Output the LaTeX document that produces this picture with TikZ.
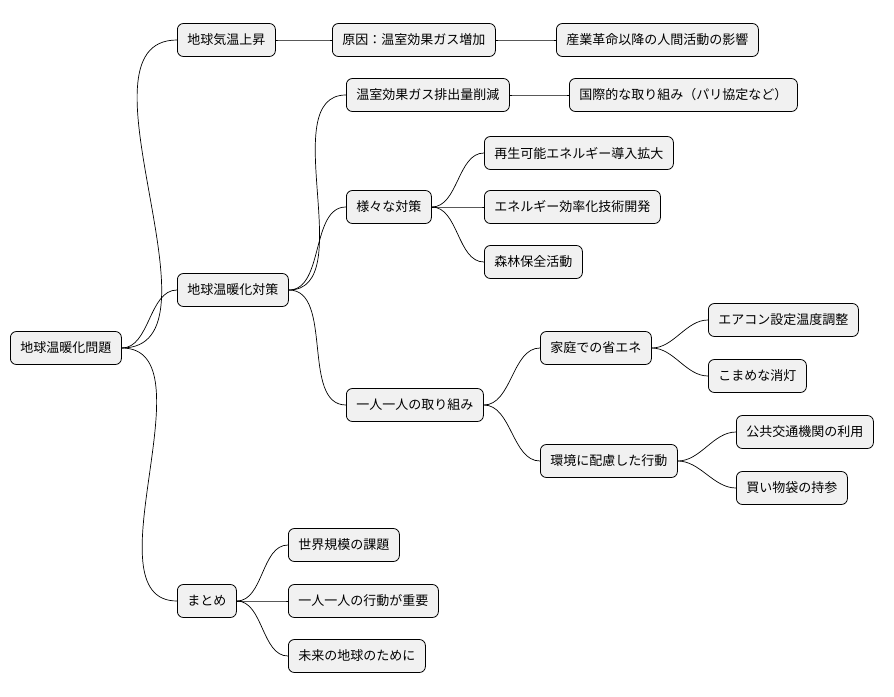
\documentclass[tikz,border=0pt]{standalone}
\usepackage{fontspec}
\setmainfont{Noto Sans CJK JP}
\tikzset{
  topic/.style={draw=black, line width=0.8pt, rounded corners=6pt, fill={rgb,255:red,241;green,241;blue,241},
    anchor=west, minimum height=33pt, inner xsep=10pt, font=\fontsize{13}{15}\selectfont},
  link/.style={line width=0.7pt}
}
\begin{document}
\begin{tikzpicture}[x=1pt,y=-1pt]
\useasboundingbox (0,0) rectangle (894,696);
\node[topic] (root) at (10,348) {地球温暖化問題};
\node[topic] (rise) at (177,40) {地球気温上昇};
\node[topic] (cause) at (332,40) {原因：温室効果ガス増加};
\node[topic] (human) at (556,40) {産業革命以降の人間活動の影響};
\node[topic] (measure) at (177,290) {地球温暖化対策};
\node[topic] (cut) at (346,95) {温室効果ガス排出量削減};
\node[topic] (paris) at (569,95) {国際的な取り組み（パリ協定など）};
\node[topic] (various) at (346,207) {様々な対策};
\node[topic] (renew) at (484,153) {再生可能エネルギー導入拡大};
\node[topic] (effic) at (484,207) {エネルギー効率化技術開発};
\node[topic] (forest) at (484,262) {森林保全活動};
\node[topic] (each) at (346,405) {一人一人の取り組み};
\node[topic] (home) at (540,348) {家庭での省エネ};
\node[topic] (aircon) at (708,320) {エアコン設定温度調整};
\node[topic] (light) at (708,376) {こまめな消灯};
\node[topic] (eco) at (540,461) {環境に配慮した行動};
\node[topic] (transit) at (736,432) {公共交通機関の利用};
\node[topic] (bag) at (736,488) {買い物袋の持参};
\node[topic] (summary) at (177,601) {まとめ};
\node[topic] (global) at (288,545) {世界規模の課題};
\node[topic] (action) at (288,601) {一人一人の行動が重要};
\node[topic] (future) at (288,656) {未来の地球のために};
% connectors
\foreach \a/\b in {root/rise, root/measure, root/summary, rise/cause, cause/human,
  measure/cut, measure/various, measure/each, cut/paris,
  various/renew, various/effic, various/forest,
  each/home, each/eco, home/aircon, home/light, eco/transit, eco/bag,
  summary/global, summary/action, summary/future}
  \draw[link] (\a.east) to[out=0, in=180, looseness=0.9] (\b.west);
\end{tikzpicture}
\end{document}
